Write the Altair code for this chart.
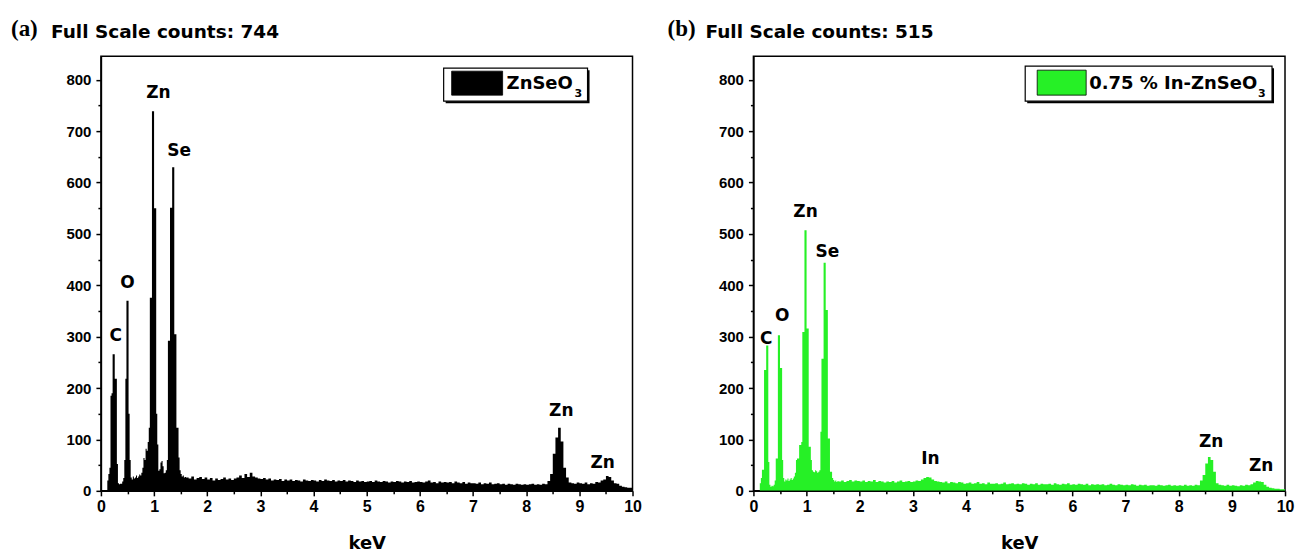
import altair as alt
import pandas as pd

# EDS spectra: counts per channel.
# Below 1.6 keV channels are 0.02 keV wide, above 1.6 keV they are 0.05 keV wide.
LOW_START, LOW_STEP = 0.0, 0.02
HIGH_START, HIGH_STEP = 1.6, 0.05

a_low = [0, 0, 0, 0, 0, 0, 20, 33, 45, 185,
         190, 266, 266, 218, 218, 52, 15, 13, 14, 14,
         18, 25, 60, 218, 370, 370, 150, 60, 26, 22,
         28, 24, 26, 30, 25, 28, 32, 30, 35, 45,
         64, 60, 82, 78, 95, 123, 376, 376, 739, 739,
         550, 550, 150, 90, 39, 42, 55, 58, 48, 34,
         35, 40, 60, 292, 292, 551, 551, 630, 630, 305,
         305, 123, 123, 65, 40, 33, 28, 30, 26, 27]
a_high = [26, 24, 28, 22, 25, 27, 23, 26,
          22, 25, 20, 24, 21, 23, 26, 22, 24, 21,
          24, 26, 30, 25, 33, 27, 35, 28, 26, 24,
          23, 25, 22, 24, 20, 22, 21, 23, 19, 22,
          20, 22, 19, 21, 20, 18, 22, 20, 19, 21,
          20, 18, 21, 19, 22, 20, 19, 21, 18, 20,
          19, 21, 18, 20, 19, 17, 20, 18, 19, 17,
          18, 19, 17, 20, 18, 17, 19, 18, 16, 18,
          17, 19, 18, 16, 18, 17, 19, 16, 17, 18,
          17, 16, 18, 20, 16, 17, 15, 18, 16, 17,
          16, 17, 15, 18, 16, 15, 17, 14, 16, 15,
          15, 14, 16, 13, 15, 14, 16, 13, 14, 15,
          13, 14, 12, 14, 13, 12, 14, 13, 12, 13,
          12, 13, 14, 12, 13, 12, 14, 13, 19, 33,
          72, 104, 123, 96, 45, 26, 16, 15, 14, 16,
          15, 14, 16, 13, 15, 14, 17, 16, 20, 22,
          29, 27, 20, 15, 14, 10, 8, 7, 6, 6,
          6]

b_low = [0, 0, 0, 0, 0, 0, 15, 25, 41, 41,
         235, 235, 283, 283, 56, 12, 8, 10, 9, 12,
         20, 63, 63, 303, 303, 239, 239, 60, 25, 18,
         22, 20, 24, 19, 22, 25, 21, 24, 28, 35,
         60, 63, 63, 89, 89, 95, 309, 309, 507, 507,
         316, 316, 86, 86, 60, 40, 37, 36, 40, 38,
         35, 37, 40, 115, 257, 257, 444, 444, 352, 352,
         102, 102, 37, 37, 25, 21, 18, 20, 17, 19]
b_high = [18, 20, 17, 19, 21, 18, 20, 19,
          18, 20, 17, 19, 18, 21, 17, 19, 18, 16,
          18, 17, 19, 16, 18, 20, 17, 18, 19, 17,
          18, 20, 19, 22, 25, 27, 26, 22, 19, 18,
          17, 16, 18, 15, 17, 16, 15, 17, 16, 14,
          15, 16, 14, 15, 17, 14, 15, 13, 16, 14,
          14, 15, 13, 14, 16, 13, 14, 15, 13, 14,
          13, 15, 14, 12, 14, 13, 15, 12, 14, 13,
          13, 14, 12, 15, 13, 12, 14, 13, 15, 12,
          13, 12, 14, 13, 12, 14, 11, 13, 12, 13,
          12, 13, 11, 12, 14, 12, 11, 13, 12, 11,
          12, 11, 13, 12, 10, 12, 11, 12, 10, 11,
          11, 10, 12, 11, 10, 11, 12, 10, 11, 10,
          11, 10, 12, 10, 11, 10, 12, 11, 20, 31,
          53, 66, 60, 37, 15, 12, 11, 10, 12, 10,
          11, 10, 9, 11, 10, 12, 11, 13, 16, 19,
          18, 17, 12, 8, 6, 5, 4, 4, 3, 3,
          3]

x_major = [0, 1, 2, 3, 4, 5, 6, 7, 8, 9, 10]
x_minor = [0.5, 1.5, 2.5, 3.5, 4.5, 5.5, 6.5, 7.5, 8.5, 9.5]
y_major = [0, 100, 200, 300, 400, 500, 600, 700, 800]
y_minor = [50, 150, 250, 350, 450, 550, 650, 750]

a_peak_names = ["C", "O", "Zn", "Se", "Zn", "Zn"]
a_peak_kev = [0.28, 0.50, 1.08, 1.47, 8.66, 9.44]
a_peak_counts = [301, 405, 775, 661, 156, 55]

b_peak_names = ["C", "O", "Zn", "Se", "In", "Zn", "Zn"]
b_peak_kev = [0.24, 0.54, 0.98, 1.39, 3.33, 8.61, 9.55]
b_peak_counts = [296, 340, 543, 465, 61, 95, 49]

TXT = "DejaVu Sans"
TICK_FONT = "Liberation Sans"
W, H = 532, 435


def spectrum(low, high):
    kev = [round(LOW_START + i * LOW_STEP, 3) for i in range(len(low))]
    kev += [round(HIGH_START + i * HIGH_STEP, 3) for i in range(len(high))]
    return pd.DataFrame({"keV": kev, "counts": low + high})


def panel(low, high, color, tag, full_scale, legend_main, names, kevs, counts, lg):
    df = spectrum(low, high)
    xs = alt.Scale(domain=[0, 10], nice=False, zero=False)
    ys = alt.Scale(domain=[0, 846], nice=False, zero=False)
    common = dict(domainColor="black", domainWidth=1.5, tickColor="black",
                  tickWidth=1.5, grid=False, labelFlush=False)
    ax_x = alt.Axis(values=x_major, format="d", orient="bottom", tickSize=5,
                    labelFont=TICK_FONT, labelFontSize=16, labelFontWeight="bold",
                    labelColor="black", labelPadding=3, title="keV",
                    titleFont=TXT, titleFontSize=18, titleFontWeight="bold",
                    titleColor="black", titlePadding=20, **common)
    ax_y = alt.Axis(values=y_major, format="d", orient="left", tickSize=5,
                    labelFont=TICK_FONT, labelFontSize=15, labelFontWeight="bold",
                    labelColor="black", labelPadding=5, title=None, **common)
    ax_x2 = alt.Axis(values=x_minor, orient="bottom", tickSize=3, labels=False,
                     domain=False, title=None, tickColor="black", tickWidth=1.5, grid=False)
    ax_y2 = alt.Axis(values=y_minor, orient="left", tickSize=3, labels=False,
                     domain=False, title=None, tickColor="black", tickWidth=1.5, grid=False)

    area = alt.Chart(df).mark_area(interpolate="step-after", color=color, clip=True).encode(
        x=alt.X("keV:Q", scale=xs, axis=ax_x),
        y=alt.Y("counts:Q", scale=ys, axis=ax_y),
    )
    minor = alt.Chart(df).mark_point(size=1, opacity=0).encode(
        x=alt.X("keV:Q", scale=xs, axis=ax_x2),
        y=alt.Y("counts:Q", scale=ys, axis=ax_y2),
    )
    pk = pd.DataFrame({"name": names, "keV": kevs, "counts": counts})
    labels = alt.Chart(pk).mark_text(font=TXT, fontSize=17, fontWeight="bold",
                                     color="black", baseline="middle").encode(
        x=alt.X("keV:Q", scale=xs, axis=None),
        y=alt.Y("counts:Q", scale=ys, axis=None),
        text="name:N",
    )
    one = pd.DataFrame({"k": [0]})
    x0, x1, y0, y1, sx0, sx1, sy0, sy1, tx, ty, subx = lg
    shadow = alt.Chart(one).mark_rect(color="black").encode(
        x=alt.value(x0 + 2), x2=alt.value(x1 + 2), y=alt.value(y0 + 2), y2=alt.value(y1 + 2))
    frame = alt.Chart(one).mark_rect(fill="white", stroke="black", strokeWidth=1.2).encode(
        x=alt.value(x0), x2=alt.value(x1), y=alt.value(y0), y2=alt.value(y1))
    swatch = alt.Chart(one).mark_rect(fill=color, stroke="black", strokeWidth=0.8).encode(
        x=alt.value(sx0), x2=alt.value(sx1), y=alt.value(sy0), y2=alt.value(sy1))
    ltext = alt.Chart(one).mark_text(font=TXT, fontSize=18, fontWeight="bold", align="left",
                                     baseline="alphabetic", color="black").encode(
        x=alt.value(tx), y=alt.value(ty), text=alt.value(legend_main))
    lsub = alt.Chart(one).mark_text(font=TXT, fontSize=11, fontWeight="bold", align="left",
                                    baseline="alphabetic", color="black").encode(
        x=alt.value(subx), y=alt.value(ty + 8), text=alt.value("3"))
    tag_t = alt.Chart(one).mark_text(font="Liberation Serif", fontSize=23, fontWeight="bold",
                                     align="left", baseline="alphabetic", color="black").encode(
        x=alt.value(tag[1]), y=alt.value(-20), text=alt.value(tag[0]))
    fs_t = alt.Chart(one).mark_text(font=TXT, fontSize=18.5, fontWeight="bold", align="left",
                                    baseline="alphabetic", color="black").encode(
        x=alt.value(tag[2]), y=alt.value(-18), text=alt.value("Full Scale counts: " + full_scale))
    anchor = alt.Chart(one).mark_rect(opacity=0).encode(
        x=alt.value(-95), x2=alt.value(-94), y=alt.value(-50), y2=alt.value(-49))
    return alt.layer(area, minor, labels, shadow, frame, swatch, ltext, lsub,
                     tag_t, fs_t, anchor).resolve_axis(
        x="independent", y="independent").properties(width=W, height=H)


pa = panel(a_low, a_high, "black", ("(a)", -90, -50), "744", "ZnSeO",
           a_peak_names, a_peak_kev, a_peak_counts,
           (343, 487, 12, 45, 351, 402, 15, 39, 406, 33, 474))
pb = panel(b_low, b_high, "#26f026", ("(b)", -86, -48), "515", "0.75 % In-ZnSeO",
           b_peak_names, b_peak_kev, b_peak_counts,
           (272, 519, 10, 45, 284, 333, 14, 39, 336, 33, 505))

chart = alt.hconcat(pa, pb, spacing=121, bounds="flush").properties(
    padding={"left": 5, "top": 5, "right": 0, "bottom": 0}
).configure_view(stroke="black", strokeWidth=1.5)

chart.save("out.html", embed_options={"renderer": "svg", "actions": False})
